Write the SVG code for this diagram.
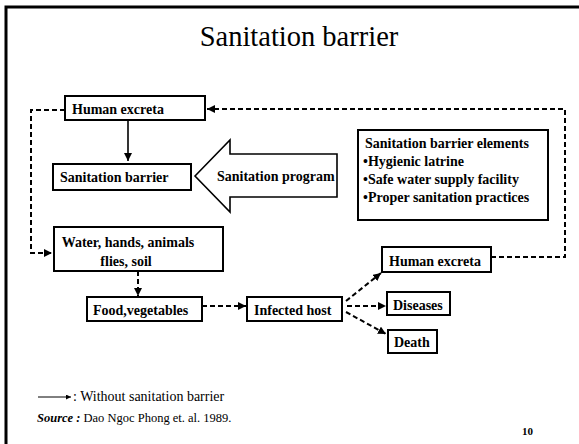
<svg xmlns="http://www.w3.org/2000/svg" width="579" height="444" viewBox="0 0 579 444">
<style>
.box{fill:#fff;stroke:#000;stroke-width:2}
.lbl{font-family:"Liberation Serif","Times New Roman",serif;font-weight:bold;font-size:14px;fill:#000}
.dash{fill:none;stroke:#000;stroke-width:2;stroke-dasharray:5 3}
.solid{fill:none;stroke:#000;stroke-width:1.6}
.txt{font-family:"Liberation Serif","Times New Roman",serif;fill:#000}
</style>
<defs>
<marker id="ah" markerUnits="userSpaceOnUse" markerWidth="9" markerHeight="9" refX="8" refY="4" orient="auto">
<path d="M0,0 L8,4 L0,8 z" fill="#000"/>
</marker>
<marker id="ahs" markerUnits="userSpaceOnUse" markerWidth="6" markerHeight="6" refX="5" refY="2.5" orient="auto">
<path d="M0,0 L5,2.5 L0,5 z" fill="#000"/>
</marker>
</defs>
<rect width="579" height="444" fill="#fff"/>
<g id="frame">
<path d="M6,444 V7 H579" fill="none" stroke="#000" stroke-width="3"/>
</g>
<text x="299" y="46" text-anchor="middle" font-family="Liberation Serif, Times New Roman, serif" font-size="28.5">Sanitation barrier</text>

<g id="connectors">
<path class="dash" d="M65,110 H31 V253 H52" marker-end="url(#ah)"/>
<path class="dash" d="M491,257 H565 V109 H207" marker-end="url(#ah)"/>
<path class="solid" d="M128,120 V161" marker-end="url(#ah)"/>
<path class="dash" d="M138,271 V296" marker-end="url(#ah)"/>
<path class="dash" d="M202,306 H246" marker-end="url(#ah)"/>
<path class="dash" d="M346,301 L381,273" marker-end="url(#ah)"/>
<path class="dash" d="M347,306 H386" marker-end="url(#ah)"/>
<path class="dash" d="M346,312 L386,334" marker-end="url(#ah)"/>
</g>

<g id="human-excreta-top">
<rect class="box" x="65" y="96" width="140" height="24"/>
<text class="lbl" x="72" y="114">Human excreta</text>
</g>
<g id="sanitation-barrier">
<rect class="box" x="53" y="164" width="138" height="26"/>
<text class="lbl" x="60" y="182">Sanitation barrier</text>
</g>
<g id="sanitation-program">
<polygon points="195,176 230,140 230,154 337,154 337,197 230,197 230,212" fill="#fff" stroke="#000" stroke-width="1.6"/>
<text class="lbl" x="217" y="181">Sanitation program</text>
</g>
<g id="elements">
<rect class="box" x="358" y="130" width="190" height="90"/>
<text class="lbl" x="365" y="148">Sanitation barrier elements</text>
<text class="lbl" x="363" y="166">•Hygienic latrine</text>
<text class="lbl" x="363" y="184">•Safe water supply facility</text>
<text class="lbl" x="363" y="202">•Proper sanitation practices</text>
</g>
<g id="water">
<rect class="box" x="54" y="227" width="169" height="44"/>
<text class="lbl" x="128" y="247" text-anchor="middle">Water, hands, animals</text>
<text class="lbl" x="126" y="266" text-anchor="middle">flies, soil</text>
</g>
<g id="food">
<rect class="box" x="87" y="297" width="115" height="24"/>
<text class="lbl" x="93" y="315">Food,vegetables</text>
</g>
<g id="infected-host">
<rect class="box" x="247" y="297" width="95" height="24"/>
<text class="lbl" x="254" y="315">Infected host</text>
</g>
<g id="human-excreta-bottom">
<rect class="box" x="382" y="247" width="109" height="25"/>
<text class="lbl" x="389" y="266">Human excreta</text>
</g>
<g id="diseases">
<rect class="box" x="387" y="292" width="63" height="23"/>
<text class="lbl" x="393" y="310">Diseases</text>
</g>
<g id="death">
<rect class="box" x="388" y="330" width="49" height="23"/>
<text class="lbl" x="394" y="347">Death</text>
</g>

<g id="legend">
<path d="M38,397 H71" stroke="#000" stroke-width="1" fill="none" marker-end="url(#ahs)"/>
<text class="txt" x="73" y="401" font-size="14">: Without sanitation barrier</text>
<text class="txt" x="37" y="422" font-size="12.5"><tspan font-style="italic" font-weight="bold">Source :</tspan> Dao Ngoc Phong et. al. 1989.</text>
<text x="522" y="435" font-family="Liberation Serif, Times New Roman, serif" font-weight="bold" font-size="11">10</text>
</g>
</svg>
